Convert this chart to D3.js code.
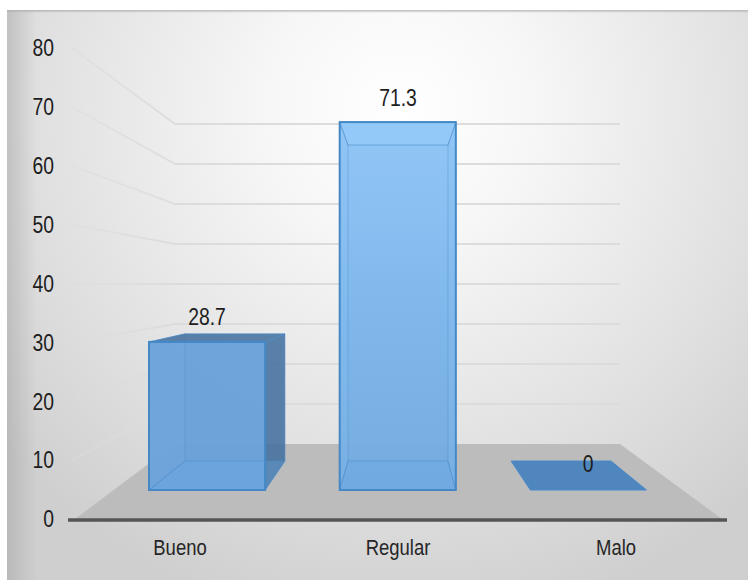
<!DOCTYPE html>
<html><head><meta charset="utf-8">
<script src="https://cdnjs.cloudflare.com/ajax/libs/d3/7.8.5/d3.min.js"></script>
<style>html,body{margin:0;padding:0;background:#fff}svg{display:block}text{font-family:"Liberation Sans",Arial,sans-serif}</style>
</head><body><svg id="c" width="748" height="580"></svg>
<script>
const categories = ["Bueno", "Regular", "Malo"];
const values = [28.7, 71.3, 0];
const valueLabels = ["28.7", "71.3", "0"];
const yTicks = [0, 10, 20, 30, 40, 50, 60, 70, 80];

const svg = d3.select("#c");
const defs = svg.append("defs");

// projection scales of the 3D chart (front plane, back plane, wall, axis labels)
const yAxisScale = d3.scaleLinear().domain([0, 80]).range([519, 48]);
const yWall = d3.scaleLinear().domain([0, 80]).range([444, 124]);
const yFront = d3.scaleLinear().domain([0, 80]).range([490, 77.2]);
const yBack = d3.scaleLinear().domain([0, 80]).range([461, 106.5]);
const xFront = d3.scaleBand().domain(categories).range([149, 646.5]).paddingInner(0.391).paddingOuter(0);
const xBack = d3.scaleBand().domain(categories).range([185, 611]).paddingInner(0.387).paddingOuter(0);
const xLabel = d3.scaleBand().domain(categories).range([71, 725]);

const bg = defs.append("radialGradient").attr("id", "bg").attr("gradientUnits", "userSpaceOnUse")
  .attr("cx", 400).attr("cy", 110).attr("r", 520);
bg.append("stop").attr("offset", 0).attr("stop-color", "#ffffff");
bg.append("stop").attr("offset", 0.25).attr("stop-color", "#f7f7f7");
bg.append("stop").attr("offset", 0.7).attr("stop-color", "#e0e0e0");
bg.append("stop").attr("offset", 1).attr("stop-color", "#cfcfcf");

const gl = defs.append("linearGradient").attr("id", "shade").attr("x1", 0).attr("x2", 1).attr("y1", 0).attr("y2", 0);
gl.append("stop").attr("offset", 0).attr("stop-color", "#999").attr("stop-opacity", 0.4);
gl.append("stop").attr("offset", 1).attr("stop-color", "#999").attr("stop-opacity", 0);

const tg = defs.append("linearGradient").attr("id", "topEdge").attr("x1", 0).attr("x2", 0).attr("y1", 0).attr("y2", 1);
tg.append("stop").attr("offset", 0).attr("stop-color", "#aaa").attr("stop-opacity", 0.8);
tg.append("stop").attr("offset", 1).attr("stop-color", "#aaa").attr("stop-opacity", 0);

const barFill = defs.append("linearGradient").attr("id", "barFill1").attr("x1", 0).attr("x2", 0).attr("y1", 0).attr("y2", 1);
barFill.append("stop").attr("offset", 0).attr("stop-color", "#8ec5f6");
barFill.append("stop").attr("offset", 0.5).attr("stop-color", "#7db6ec");
barFill.append("stop").attr("offset", 1).attr("stop-color", "#72aadf");

const leftGrid = defs.append("linearGradient").attr("id", "leftGrid").attr("gradientUnits", "userSpaceOnUse")
  .attr("x1", 72).attr("x2", 175).attr("y1", 0).attr("y2", 0);
leftGrid.append("stop").attr("offset", 0).attr("stop-color", "#dcdcdc").attr("stop-opacity", 0.45);
leftGrid.append("stop").attr("offset", 1).attr("stop-color", "#dcdcdc").attr("stop-opacity", 1);

// panel
svg.append("rect").attr("x", 7).attr("y", 10).attr("width", 741).attr("height", 570).attr("fill", "url(#bg)");
svg.append("rect").attr("x", 7).attr("y", 10).attr("width", 30).attr("height", 570).attr("fill", "url(#shade)");
svg.append("rect").attr("x", 7).attr("y", 10).attr("width", 741).attr("height", 3).attr("fill", "url(#topEdge)");

// gridlines
const wallLeft = 175, wallRight = 620, sideLeft = 72;
const gridValues = yTicks.filter(d => d > 0);
svg.append("g").selectAll("path").data(gridValues).join("path")
  .attr("d", d => d3.line()([[sideLeft, yAxisScale(d)], [wallLeft, yWall(d)]]))
  .attr("fill", "none").attr("stroke", "url(#leftGrid)").attr("stroke-width", 1.8);
svg.append("g").selectAll("line").data(gridValues).join("line")
  .attr("x1", wallLeft).attr("y1", d => yWall(d)).attr("x2", wallRight).attr("y2", d => yWall(d))
  .attr("stroke", "#dcdcdc").attr("stroke-width", 1.8);

// floor
svg.append("path")
  .attr("d", d3.line()([[75, 519], [wallLeft, yWall(0)], [wallRight, yWall(0)], [722, 519]]) + "Z")
  .attr("fill", "#bcbcbc");

// axis line
svg.append("line").attr("x1", 68).attr("x2", 727).attr("y1", 520).attr("y2", 520)
  .attr("stroke", "#555").attr("stroke-width", 3.4);

// y axis
const ya = svg.append("g").attr("transform", "translate(54,0)")
  .call(d3.axisLeft(yAxisScale).tickValues(yTicks).tickSize(0).tickPadding(0));
ya.select(".domain").remove();
ya.selectAll("text").attr("font-size", 23).attr("fill", "#1d1d1d").attr("dy", "0.34em");

// x axis
const xa = svg.append("g").attr("transform", "translate(0,537)")
  .call(d3.axisBottom(xLabel).tickSize(0).tickPadding(0));
xa.select(".domain").remove();
xa.selectAll("text").attr("font-size", 22).attr("fill", "#262626").attr("dy", "0.8em");

// bars
const frontFills = ["#6aa1d9", "url(#barFill1)"];
const edge = "#4488c6";
const poly = pts => d3.line()(pts) + "Z";
const bars = svg.append("g").selectAll("g")
  .data(categories.map((c, i) => ({c, i, v: values[i]}))).join("g");
bars.each(function(d) {
  const g = d3.select(this);
  const fl = xFront(d.c), fr = fl + xFront.bandwidth();
  const bl = xBack(d.c), br = bl + xBack.bandwidth();
  const ft = yFront(d.v), fb = yFront(0), bt = yBack(d.v), bb = yBack(0);
  const fromBelow = bt > ft;
  if (d.v === 0) {
    g.append("path").attr("d", poly([[bl, bb], [br, bb], [fr, fb], [fl, fb]])).attr("fill", "#4f86bd")
      .attr("stroke", "#4a8ccb").attr("stroke-width", 1);
    return;
  }
  const face = (pts, fill, op, so) => g.append("path").attr("d", poly(pts)).attr("fill", fill)
    .attr("fill-opacity", op).attr("stroke", "#4a8ccb").attr("stroke-width", 1).attr("stroke-opacity", so);
  g.append("rect").attr("x", fl).attr("y", ft).attr("width", fr - fl).attr("height", fb - ft)
    .attr("fill", frontFills[d.i]).attr("fill-opacity", 0.97);
  face([[fr, ft], [br, bt], [br, bb], [fr, fb]], fromBelow ? "#8cc4f5" : "#44719e", fromBelow ? 0.2 : 0.88, fromBelow ? 0.4 : 0.6);
  face([[fl, ft], [bl, bt], [bl, bb], [fl, fb]], "#8cc4f5", fromBelow ? 0.2 : 0.06, 0.4);
  face([[bl, bb], [br, bb], [fr, fb], [fl, fb]], "#6aa8e8", 0.3, 0.5);
  face([[fl, ft], [fr, ft], [br, bt], [bl, bt]], fromBelow ? "#93c9f8" : "#44719e", fromBelow ? 0.75 : 0.88, 0.6);
  g.append("rect").attr("x", fl).attr("y", ft).attr("width", fr - fl).attr("height", fb - ft)
    .attr("fill", "none").attr("stroke", edge).attr("stroke-width", 2);
});

// value labels
const labelPos = {Bueno: [207, 325], Regular: [398, 106], Malo: [588, 472]};
svg.append("g").selectAll("text").data(categories).join("text")
  .attr("x", d => labelPos[d][0]).attr("y", d => labelPos[d][1])
  .attr("text-anchor", "middle").attr("font-size", 23).attr("fill", "#1d1d1d")
  .text((d, i) => valueLabels[i]);

// the reference type is condensed: squeeze every label horizontally, keeping it real text
svg.selectAll("text").each(function() {
  const n = d3.select(this);
  n.attr("textLength", this.getComputedTextLength() * 0.84).attr("lengthAdjust", "spacingAndGlyphs");
});
</script></body></html>
